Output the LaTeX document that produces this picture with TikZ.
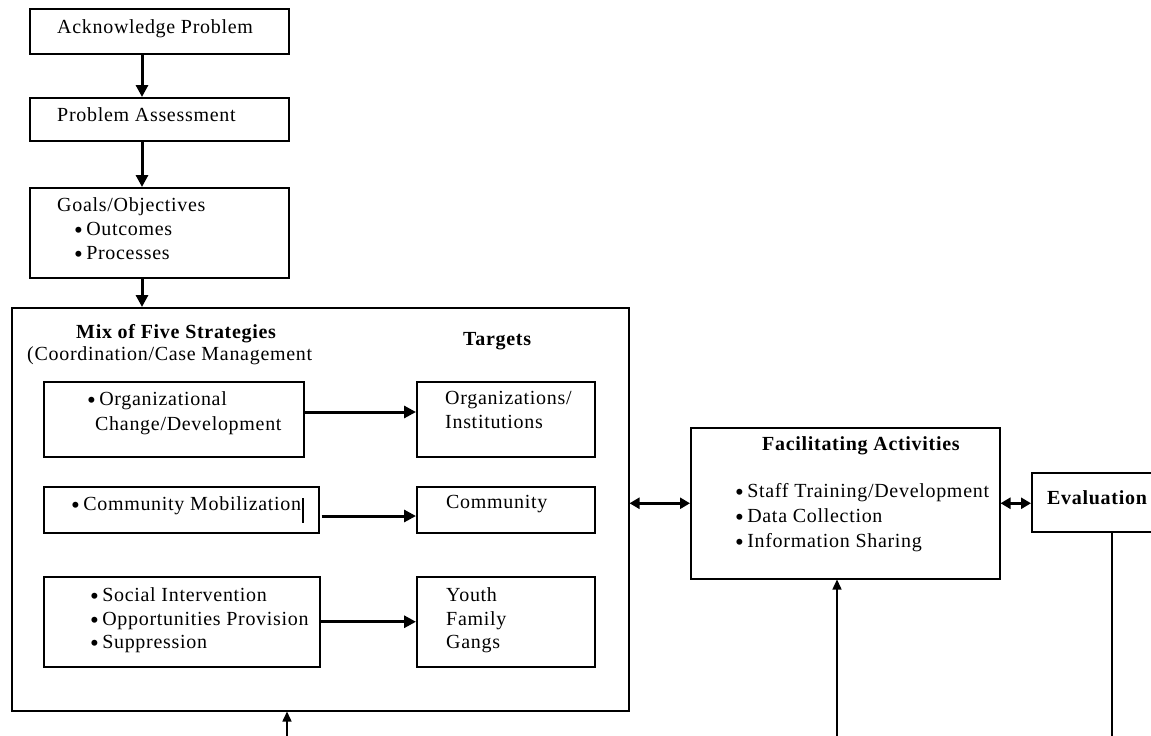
\documentclass[tikz,border=0pt]{standalone}
\usepackage{fontspec}
\setmainfont{Liberation Serif}[LetterSpace=3.5]
\usetikzlibrary{arrows.meta}
\newcommand{\bul}{\raisebox{-2.5pt}{\fontsize{25}{20}\selectfont •}}
\begin{document}
\begin{tikzpicture}[x=1pt,y=-1pt,
  box/.style={draw, line width=1.5pt, anchor=north west, inner sep=0pt},
  txt/.style={anchor=west, inner sep=0pt, text height=14pt, text depth=5pt, font=\fontsize{20}{24}\selectfont},
  btxt/.style={txt, font=\fontsize{20}{24}\selectfont\bfseries},
  flow/.style={line width=3pt, -{Triangle[length=12pt,width=12pt]}},
  dflow/.style={line width=3pt, {Triangle[length=10pt,width=11pt]}-{Triangle[length=10pt,width=11pt]}},
  thinflow/.style={line width=1.5pt, -{Triangle[length=10pt,width=9pt]}},
  plainline/.style={line width=1.5pt}]
\clip (0,0) rectangle (1151,736);
\fill[white] (0,0) rectangle (1151,736);

% boxes
\node[box, minimum width=259pt, minimum height=45pt] (b1) at (29,8) {};
\node[box, minimum width=259pt, minimum height=43pt] (b2) at (29,97) {};
\node[box, minimum width=259pt, minimum height=90pt] (b3) at (29,187) {};
\node[box, minimum width=617pt, minimum height=403pt] (big) at (11,307) {};
\node[box, minimum width=260pt, minimum height=75pt] (oc) at (43,381) {};
\node[box, minimum width=178pt, minimum height=75pt] (oi) at (416,381) {};
\node[box, minimum width=275pt, minimum height=46pt] (cm) at (43,486) {};
\node[box, minimum width=178pt, minimum height=46pt] (co) at (416,486) {};
\node[box, minimum width=276pt, minimum height=90pt] (si) at (43,576) {};
\node[box, minimum width=178pt, minimum height=90pt] (yf) at (416,576) {};
\node[box, minimum width=309pt, minimum height=151pt] (fa) at (690,427) {};
\node[box, minimum width=150pt, minimum height=59pt] (ev) at (1031,472) {};

% texts
\node[txt] (t1) at (57,29) {Acknowledge Problem};
\node[txt] (t2) at (57,117) {Problem Assessment};
\node[txt] (t3) at (57,207) {Goals/Objectives};
\node[txt] (t3a) at (74,231) {\bul\,Outcomes};
\node[txt] (t3b) at (74,255) {\bul\,Processes};
\node[btxt] (tmix) at (76,334) {Mix of Five Strategies};
\node[txt] (tcoord) at (27,356) {(Coordination/Case Management};
\node[btxt] (ttar) at (463,341) {Targets};
\node[txt] (toc1) at (87,401) {\bul\,Organizational};
\node[txt] (toc2) at (95,426) {Change/Development};
\node[txt] (toi1) at (445,400) {Organizations/};
\node[txt] (toi2) at (445,424) {Institutions};
\node[txt] (tcm) at (71,506) {\bul\,Community Mobilization};
\node[txt] (tco) at (446,504) {Community};
\node[txt] (tsi1) at (90,597) {\bul\,Social Intervention};
\node[txt] (tsi2) at (90,621) {\bul\,Opportunities Provision};
\node[txt] (tsi3) at (90,644) {\bul\,Suppression};
\node[txt] (tyf1) at (446,597) {Youth};
\node[txt] (tyf2) at (446,621) {Family};
\node[txt] (tyf3) at (446,644) {Gangs};
\node[btxt] (tfa) at (762,446) {Facilitating Activities};
\node[txt] (tfa1) at (735,493) {\bul\,Staff Training/Development};
\node[txt] (tfa2) at (735,518) {\bul\,Data Collection};
\node[txt] (tfa3) at (735,543) {\bul\,Information Sharing};
\node[btxt] (tev) at (1047,500) {Evaluation};

% cursor mark
\draw[line width=1.3pt] (303,498) -- (303,523);

% connectors
\draw[flow] ([xshift=113pt]b1.south west) -- ([xshift=113pt]b2.north west);
\draw[flow] ([xshift=113pt]b2.south west) -- ([xshift=113pt]b3.north west);
\draw[flow] ([xshift=113pt]b3.south west) -- ([xshift=131pt]big.north west);
\coordinate (y1) at (0,412);
\coordinate (y2) at (0,516);
\draw[flow] (oc.east |- y1) -- (oi.west |- y1);
\draw[flow] ([xshift=2pt]cm.east |- y2) -- (co.west |- y2);
\draw[flow] (si.east) -- (yf.west);
\draw[dflow] (big.east |- fa.west) -- (fa.west);
\draw[dflow] (fa.east) -- (ev.west |- fa.east);
\coordinate (in1) at (287,736);
\coordinate (in2) at (837,736);
\coordinate (out3) at (1112,736);
\draw[thinflow] (in1) -- (in1 |- big.south);
\draw[thinflow] (in2) -- (in2 |- fa.south);
\draw[plainline] (out3 |- ev.south) -- (out3);
\end{tikzpicture}
\end{document}
